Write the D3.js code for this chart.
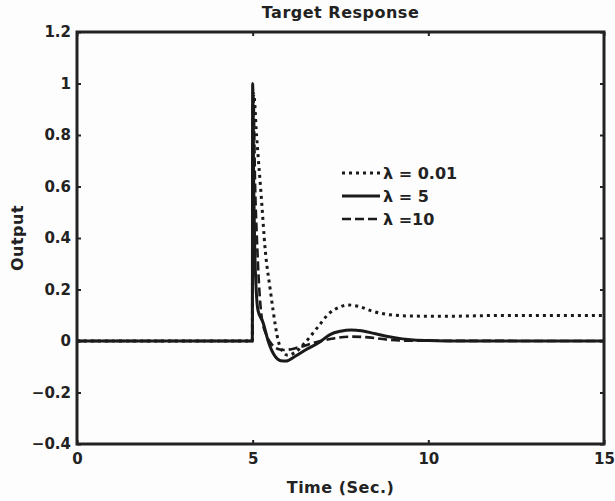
<!DOCTYPE html>
<html>
<head>
<meta charset="utf-8">
<script src="https://cdn.jsdelivr.net/npm/d3@7"></script>
<style>
  body { margin: 0; background: #fdfdfd; }
  text { font-family: "DejaVu Sans", sans-serif; font-weight: bold; fill: #222; }
</style>
</head>
<body>
<div id="chart"></div>
<script>
"use strict"

// series
var seriesNames = ['\u03bb = 0.01', '\u03bb = 5', '\u03bb =10'];

var timeDotted = [0, 4.99, 5.0, 5.03, 5.11, 5.24, 5.36, 5.5, 5.58, 5.73, 5.85, 6.0, 6.2, 6.5, 6.83, 7.2, 7.5, 7.7, 8.0, 8.4, 8.9, 9.5, 10.5, 12, 15];
var outDotted  = [0, 0, 0.6, 0.96, 0.8, 0.57, 0.35, 0.2, 0.12, 0, -0.04, -0.055, -0.045, -0.005, 0.05, 0.11, 0.133, 0.14, 0.135, 0.116, 0.102, 0.097, 0.096, 0.099, 0.099];

var timeSolid = [0, 4.99, 5.0, 5.03, 5.06, 5.1, 5.15, 5.3, 5.44, 5.64, 5.8, 5.95, 6.2, 6.5, 6.9, 7.2, 7.5, 7.8, 8.1, 8.5, 9.0, 9.5, 10, 11, 15];
var outSolid  = [0, 0, 1.0, 0.6, 0.35, 0.2, 0.12, 0.07, 0, -0.06, -0.077, -0.078, -0.06, -0.035, -0.005, 0.025, 0.038, 0.043, 0.04, 0.028, 0.014, 0.005, 0.002, 0, 0];

var timeDashed = [0, 4.99, 5.0, 5.02, 5.07, 5.12, 5.18, 5.26, 5.4, 5.5, 5.7, 5.9, 6.3, 6.8, 7.3, 7.8, 8.3, 8.8, 9.5, 15];
var outDashed  = [0, 0, 0.9, 0.95, 0.6, 0.4, 0.22, 0.09, 0.02, -0.005, -0.03, -0.035, -0.025, -0.005, 0.01, 0.017, 0.014, 0.006, 0.001, 0];

var xTicks = [0, 5, 10, 15];
var yTicks = [-0.4, -0.2, 0, 0.2, 0.4, 0.6, 0.8, 1, 1.2];

var lineStyles = [
    {dash: '3,4', width: 3},
    {dash: null, width: 3},
    {dash: '9,4', width: 2.6}
];

var series = [
    {name: seriesNames[0], time: timeDotted, out: outDotted},
    {name: seriesNames[1], time: timeSolid, out: outSolid},
    {name: seriesNames[2], time: timeDashed, out: outDashed}
];

var margin = {top: 32, right: 11, bottom: 57, left: 77};
var width = 615 - margin.left - margin.right;
var height = 501 - margin.top - margin.bottom;

var svg = d3.select('#chart')
    .append('svg')
    .attr('width', 615)
    .attr('height', 501)
    .append('g')
    .attr('transform', 'translate(' + margin.left + ',' + margin.top + ')');

var x = d3.scaleLinear().domain([0, 15]).range([0, width]);
var y = d3.scaleLinear().domain([-0.4, 1.2]).range([height, 0]);
var fmt = d3.format('~g');

// axes with inward ticks on all four sides
function styleAxis(g) {
    g.select('.domain').remove();
    g.selectAll('.tick line').attr('stroke', '#222').attr('stroke-width', 2);
    g.selectAll('text').style('font-size', '15px').style('font-family', '"DejaVu Sans", sans-serif')
        .style('font-weight', 'bold').attr('fill', '#222');
}

svg.append('g')
    .attr('transform', 'translate(0,' + height + ')')
    .call(d3.axisBottom(x).tickValues(xTicks).tickFormat(fmt).tickSizeInner(-4).tickSizeOuter(0).tickPadding(9))
    .call(styleAxis);
svg.append('g')
    .call(d3.axisTop(x).tickValues(xTicks).tickFormat('').tickSizeInner(-4).tickSizeOuter(0))
    .call(styleAxis);
svg.append('g')
    .call(d3.axisLeft(y).tickValues(yTicks).tickFormat(fmt).tickSizeInner(-4).tickSizeOuter(0).tickPadding(6))
    .call(styleAxis);
svg.append('g')
    .attr('transform', 'translate(' + width + ',0)')
    .call(d3.axisRight(y).tickValues(yTicks).tickFormat('').tickSizeInner(-4).tickSizeOuter(0))
    .call(styleAxis);

// curves
var line = d3.line()
    .x(function(d) { return x(d[0]); })
    .y(function(d) { return y(d[1]); })
    .curve(d3.curveMonotoneX);

series.forEach(function(s, i) {
    svg.append('path')
        .datum(d3.zip(s.time, s.out))
        .attr('fill', 'none')
        .attr('stroke', '#1a1a1a')
        .attr('stroke-width', lineStyles[i].width)
        .attr('stroke-dasharray', lineStyles[i].dash)
        .attr('d', line);
});

// frame
svg.append('rect')
    .attr('width', width)
    .attr('height', height)
    .attr('fill', 'none')
    .attr('stroke', '#222')
    .attr('stroke-width', 3);

// legend (no box)
var legend = svg.append('g').attr('transform', 'translate(' + (342 - margin.left) + ',' + (173 - margin.top) + ')');
series.forEach(function(s, i) {
    var row = legend.append('g').attr('transform', 'translate(0,' + (i * 23) + ')');
    row.append('line')
        .attr('x1', 0).attr('x2', 38)
        .attr('stroke', '#1a1a1a')
        .attr('stroke-width', lineStyles[i].width)
        .attr('stroke-dasharray', lineStyles[i].dash);
    row.append('text')
        .attr('x', 41)
        .attr('dy', '0.35em')
        .style('font-size', '16px')
        .text(s.name);
});

// titles
svg.append('text')
    .attr('x', width / 2)
    .attr('y', 18 - margin.top)
    .attr('text-anchor', 'middle')
    .style('font-size', '16px')
    .style('letter-spacing', '0.5px')
    .text('Target Response');
svg.append('text')
    .attr('x', width / 2)
    .attr('y', 493 - margin.top)
    .attr('text-anchor', 'middle')
    .style('font-size', '16px')
    .style('letter-spacing', '0.5px')
    .text('Time (Sec.)');
svg.append('text')
    .attr('transform', 'translate(' + (23 - margin.left) + ',' + (height / 2) + ')rotate(-90)')
    .attr('text-anchor', 'middle')
    .style('font-size', '16px')
    .style('letter-spacing', '0.5px')
    .text('Output');
</script>
</body>
</html>
